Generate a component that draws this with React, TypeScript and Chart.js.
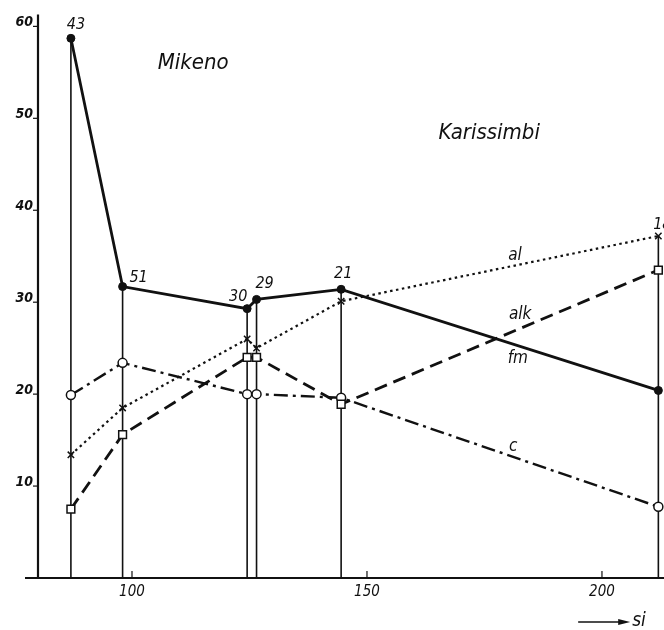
import React, { useEffect, useRef } from "react";
import { Chart, registerables } from "chart.js";
Chart.register(...registerables);

const siValues = [87, 98, 124.5, 126.5, 144.5, 212];
const sampleNumbers = ["43", "51", "30", "29", "21", "18"];
const fm = [58.7, 31.7, 29.3, 30.3, 31.4, 20.4];
const al = [13.4, 18.5, 26.0, 25.0, 30.1, 37.2];
const alk = [7.5, 15.6, 24.0, 24.0, 18.9, 33.5];
const c = [19.9, 23.4, 20.0, 20.0, 19.6, 7.75];
const yTicks = [10, 20, 30, 40, 50, 60];
const xTicks = [100, 150, 200];
const seriesLabels = ["al", "alk", "fm", "c"];
const seriesLabelX = [181.5, 182.6, 182.1, 181.1];
const seriesLabelY = [35.1, 28.6, 23.9, 14.3];
const regionNames = ["Mikeno", "Karissimbi"];
const regionX = [113, 176];
const regionY = [56, 48.4];
const axisTitle = "si";

// label offsets in px relative to the top of each sample's vertical line
const sampleLabelDx = [5, 16, -9, 8, 2, 4];
const sampleLabelDy = [-13, -9, -12, -16, -15, -11];

const INK = "#111";
const FONT = '"DejaVu Sans Condensed", "DejaVu Sans", sans-serif';

const pts = (ys: number[]) => siValues.map((x, i) => ({ x, y: ys[i] }));

export default function App() {
  const ref = useRef<HTMLCanvasElement | null>(null);
  useEffect(() => {
    if (!ref.current) return;
    const tops = siValues.map((_, i) => Math.max(fm[i], al[i], alk[i], c[i]));
    const dropSets = siValues.map((x, i) => ({
      type: "line" as const,
      data: [{ x, y: 0 }, { x, y: tops[i] }],
      borderColor: INK,
      borderWidth: 1.6,
      pointRadius: 0,
      fill: false,
    }));
    const plugin = {
      id: "decor",
      beforeDatasetsDraw(chart: any) {
        const { ctx, chartArea, scales } = chart;
        const xs = scales.x, ys = scales.y;
        ctx.save();
        ctx.strokeStyle = INK;
        ctx.fillStyle = INK;
        // y axis
        ctx.lineWidth = 2.2;
        ctx.beginPath();
        ctx.moveTo(chartArea.left, ys.getPixelForValue(0));
        ctx.lineTo(chartArea.left, ys.getPixelForValue(61.3));
        ctx.stroke();
        // x axis
        ctx.lineWidth = 1.8;
        ctx.beginPath();
        ctx.moveTo(chartArea.left - 13, ys.getPixelForValue(0));
        ctx.lineTo(chart.width, ys.getPixelForValue(0));
        ctx.stroke();
        // y ticks
        ctx.lineWidth = 1.2;
        ctx.font = `italic bold 14px ${FONT}`;
        ctx.textAlign = "right";
        ctx.textBaseline = "middle";
        yTicks.forEach((v) => {
          const py = ys.getPixelForValue(v);
          ctx.beginPath();
          ctx.moveTo(chartArea.left - 5, py);
          ctx.lineTo(chartArea.left, py);
          ctx.stroke();
          ctx.fillText(String(v), chartArea.left - 5, py - 4);
        });
        // x ticks
        ctx.textAlign = "center";
        ctx.textBaseline = "top";
        ctx.font = `italic 15px ${FONT}`;
        xTicks.forEach((v) => {
          const px = xs.getPixelForValue(v);
          const py = ys.getPixelForValue(0);
          ctx.beginPath();
          ctx.moveTo(px, py);
          ctx.lineTo(px, py - 7);
          ctx.stroke();
          ctx.fillText(String(v), px, py + 7);
        });
        // si arrow
        const ay = ys.getPixelForValue(0) + 44;
        const ax1 = xs.getPixelForValue(206);
        const ax0 = ax1 - 52;
        ctx.lineWidth = 1.3;
        ctx.beginPath();
        ctx.moveTo(ax0, ay);
        ctx.lineTo(ax1 - 6, ay);
        ctx.stroke();
        ctx.beginPath();
        ctx.moveTo(ax1, ay);
        ctx.lineTo(ax1 - 12, ay - 3);
        ctx.lineTo(ax1 - 12, ay + 3);
        ctx.closePath();
        ctx.fill();
        ctx.font = `italic 19px ${FONT}`;
        ctx.textAlign = "left";
        ctx.textBaseline = "middle";
        ctx.fillText(axisTitle, ax1 + 2, ay - 1);
        ctx.restore();
      },
      afterDatasetsDraw(chart: any) {
        const { ctx, scales } = chart;
        const xs = scales.x, ys = scales.y;
        const tops = siValues.map((_, i) => Math.max(fm[i], al[i], alk[i], c[i]));
        ctx.save();
        ctx.fillStyle = INK;
        ctx.textAlign = "center";
        ctx.textBaseline = "middle";
        ctx.font = `italic 16px ${FONT}`;
        sampleNumbers.forEach((s, i) => {
          const px = xs.getPixelForValue(siValues[i]) + sampleLabelDx[i];
          const py = ys.getPixelForValue(tops[i]) + sampleLabelDy[i];
          ctx.fillText(s, px, py);
        });
        ctx.font = `italic 17px ${FONT}`;
        seriesLabels.forEach((s, i) => {
          ctx.fillText(s, xs.getPixelForValue(seriesLabelX[i]), ys.getPixelForValue(seriesLabelY[i]));
        });
        ctx.font = `italic 22px ${FONT}`;
        regionNames.forEach((s, i) => {
          ctx.fillText(s, xs.getPixelForValue(regionX[i]), ys.getPixelForValue(regionY[i]));
        });
        ctx.restore();
      },
    };
    const chart = new Chart(ref.current, {
      type: "line",
      data: {
        datasets: [
          {
            label: "fm",
            data: pts(fm),
            borderColor: INK,
            borderWidth: 2.8,
            pointStyle: "circle",
            pointRadius: 4,
            pointBackgroundColor: INK,
            pointBorderColor: INK,
            pointBorderWidth: 1,
          },
          {
            label: "al",
            data: pts(al),
            borderColor: INK,
            borderWidth: 2.2,
            borderDash: [2.5, 3.5],
            pointStyle: "crossRot",
            pointRadius: 4.5,
            pointBorderColor: INK,
            pointBorderWidth: 1.5,
          },
          {
            label: "alk",
            data: pts(alk),
            borderColor: INK,
            borderWidth: 2.8,
            borderDash: [13, 7],
            pointStyle: "rect",
            pointRadius: 5.5,
            pointBackgroundColor: "#fff",
            pointBorderColor: INK,
            pointBorderWidth: 1.5,
          },
          {
            label: "c",
            data: pts(c),
            borderColor: INK,
            borderWidth: 2.4,
            borderDash: [14, 5, 3, 5],
            pointStyle: "circle",
            pointRadius: 4.5,
            pointBackgroundColor: "#fff",
            pointBorderColor: INK,
            pointBorderWidth: 1.5,
          },
          ...dropSets,
        ] as any,
      },
      options: {
        responsive: false,
        animation: false,
        layout: { autoPadding: false, padding: { left: 38, right: 0, top: 8, bottom: 52 } },
        plugins: { legend: { display: false }, tooltip: { enabled: false } },
        scales: {
          x: { type: "linear", min: 80, max: 213.2, display: false },
          y: { type: "linear", min: 0, max: 62, display: false },
        },
      },
      plugins: [plugin],
    });
    return () => chart.destroy();
  }, []);
  return (
    <div style={{ position: "fixed", left: 0, top: 0, width: 664, height: 630, background: "#fff" }}>
      <canvas ref={ref} width={664} height={630} style={{ display: "block" }} />
    </div>
  );
}
